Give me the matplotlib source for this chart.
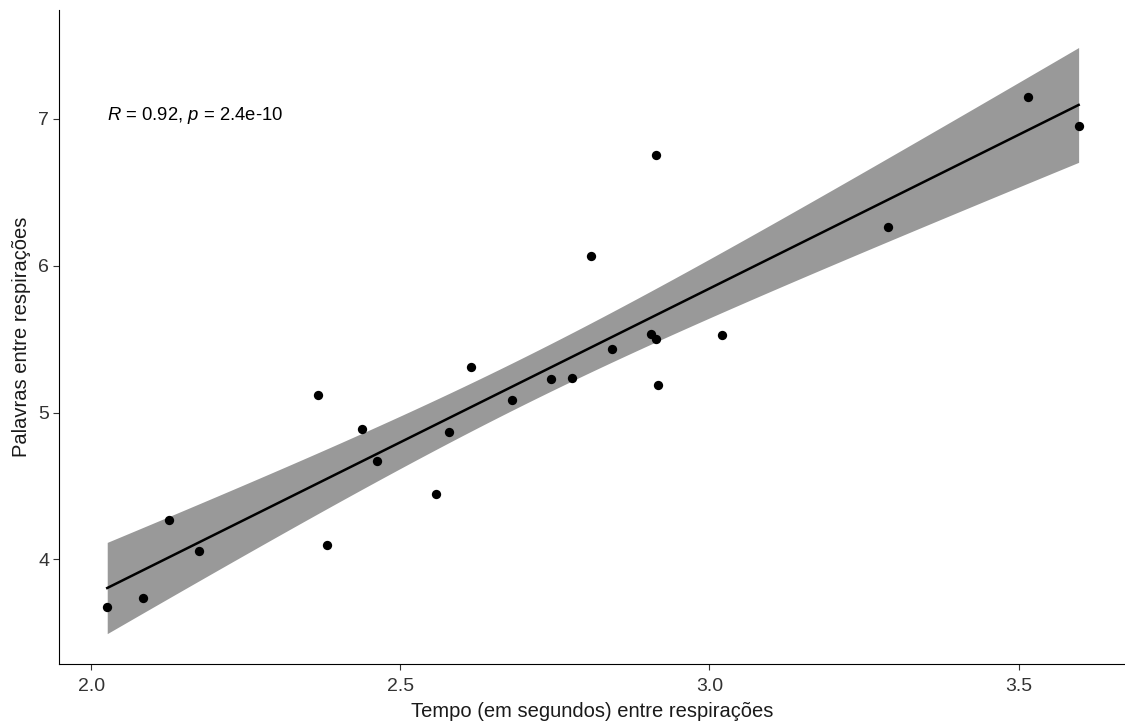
import numpy as np
import matplotlib
matplotlib.use('Agg')
import matplotlib.pyplot as plt

plt.rcParams['font.family'] = ['Liberation Sans', 'DejaVu Sans']
plt.rcParams['mathtext.fontset'] = 'custom'
plt.rcParams['mathtext.rm'] = 'Liberation Sans'
plt.rcParams['mathtext.it'] = 'Liberation Sans:italic'

# dados
tempo = np.array([2.026, 2.084, 2.126, 2.175, 2.367, 2.382, 2.438, 2.463,
                  2.557, 2.578, 2.615, 2.680, 2.744, 2.778, 2.809, 2.843,
                  2.905, 2.913, 2.913, 2.916, 3.021, 3.288, 3.515, 3.597])
palavras = np.array([3.673, 3.735, 4.265, 4.054, 5.116, 4.100, 4.891, 4.667,
                     4.442, 4.864, 5.313, 5.088, 5.231, 5.238, 6.068, 5.435,
                     5.537, 5.497, 6.755, 5.184, 5.531, 6.265, 7.146, 6.952])
anotacao = r'$\mathit{R}$ = 0.92, $\mathit{p}$ = 2.4e-10'

# regressao linear com intervalo de confianca 95%
n = len(tempo)
b1, b0 = np.polyfit(tempo, palavras, 1)
xs = np.linspace(tempo.min(), tempo.max(), 80)
ys = b0 + b1 * xs
res = palavras - (b0 + b1 * tempo)
s = np.sqrt(np.sum(res**2) / (n - 2))
t975 = 2.0739  # t(0.975, df=22)
se = s * np.sqrt(1/n + (xs - tempo.mean())**2 / np.sum((tempo - tempo.mean())**2))

fig = plt.figure(figsize=(11.25, 7.27), dpi=100)
ax = fig.add_axes([59/1125, 1 - 664/727, 1 - 59/1125, (664 - 10)/727])

ax.fill_between(xs, ys - t975*se, ys + t975*se, color='#999999', lw=0, zorder=1)
ax.plot(xs, ys, color='black', lw=1.8, zorder=2)
ax.scatter(tempo, palavras, s=45, color='black', zorder=3, lw=0)

ax.text(2.026, 7.02, anotacao, fontsize=13.3, color='black', va='center', ha='left')

ax.set_xlim(1.948, 3.672)
ax.set_ylim(3.288, 7.74)
ax.set_xticks([2.0, 2.5, 3.0, 3.5])
ax.set_yticks([4, 5, 6, 7])
ax.set_xticklabels(['2.0', '2.5', '3.0', '3.5'])
ax.tick_params(labelsize=14, labelcolor='#333333', color='#333333', length=4, pad=3)
ax.tick_params(axis='x', pad=6)
ax.spines['top'].set_visible(False)
ax.spines['right'].set_visible(False)
ax.set_xlabel('Tempo (em segundos) entre respirações', fontsize=14.5, labelpad=5, color='#1a1a1a')
ax.set_ylabel('Palavras entre respirações', fontsize=14.5, labelpad=5, color='#1a1a1a')

fig.savefig('out.png', dpi=100)
